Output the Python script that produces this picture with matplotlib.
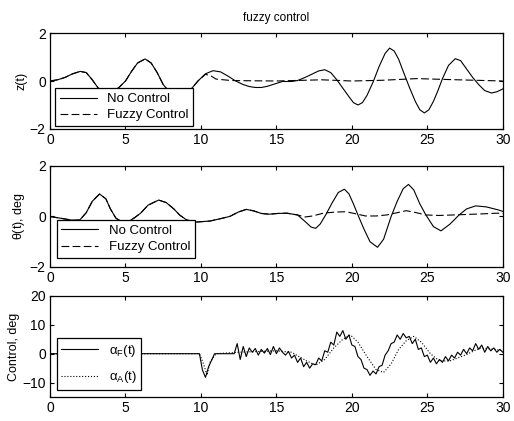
import matplotlib
matplotlib.use('Agg')
import numpy as np
import matplotlib.pyplot as plt

plt.rcParams['font.family'] = ['Liberation Sans', 'DejaVu Sans']
plt.rcParams['mathtext.fontset'] = 'custom'
plt.rcParams['mathtext.rm'] = 'Liberation Sans'
plt.rcParams['mathtext.it'] = 'Liberation Sans'

# ---- z(t) ----
t_z = [0.0, 0.5, 1.0, 1.5, 2.0, 2.4, 2.8, 3.2, 3.7, 4.2, 4.6, 5.0, 5.4, 5.8,
       6.3, 6.7, 7.1, 7.5, 7.9, 8.4, 8.9, 9.4, 9.8, 10.3, 10.8, 11.3, 11.8,
       12.3, 12.8, 13.2, 13.6, 14.0, 14.4, 14.9, 15.4, 16.0, 16.4, 16.9, 17.4,
       17.8, 18.2, 18.6, 19.0, 19.4, 19.8, 20.1, 20.4, 20.7, 21.0, 21.4, 21.8,
       22.2, 22.5, 22.8, 23.1, 23.4, 23.8, 24.2, 24.5, 24.8, 25.1, 25.4, 25.7,
       26.0, 26.4, 26.85, 27.2, 27.6, 28.0, 28.4, 28.8, 29.25, 29.6, 30.0]
z_none = [0.00, 0.05, 0.15, 0.30, 0.40, 0.35, 0.05, -0.30, -0.45, -0.45, -0.25,
          0.00, 0.40, 0.75, 0.92, 0.75, 0.35, -0.15, -0.45, -0.55, -0.45, -0.30,
          0.00, 0.30, 0.43, 0.38, 0.20, 0.00, -0.15, -0.23, -0.27, -0.27, -0.22,
          -0.12, -0.02, -0.02, 0.02, 0.15, 0.30, 0.42, 0.47, 0.35, 0.05, -0.30,
          -0.65, -0.90, -1.00, -0.90, -0.60, -0.05, 0.60, 1.15, 1.37, 1.25, 0.90,
          0.40, -0.25, -0.85, -1.20, -1.33, -1.20, -0.85, -0.40, 0.10, 0.65,
          0.93, 0.85, 0.50, 0.15, -0.15, -0.40, -0.50, -0.45, -0.33]
t_zf_tail = [10.3, 10.7, 11.0, 11.5, 12.0, 13.2, 15.0, 18.0, 20.0, 22.0, 24.3,
             27.0, 30.0]
z_fuzzy_tail = [0.28, 0.2, 0.08, 0.05, 0.02, 0.01, 0.0, 0.05, 0.0, 0.03, 0.1,
                0.05, 0.0]

# ---- theta(t) ----
t_th = [0.0, 0.5, 1.0, 1.5, 1.97, 2.4, 2.8, 3.28, 3.7, 4.0, 4.37, 4.8, 5.2,
        5.6, 6.0, 6.5, 7.2, 7.7, 8.2, 8.6, 9.06, 9.7, 10.6, 11.2, 11.9, 12.5,
        13.0, 13.5, 14.0, 14.5, 15.1, 15.7, 16.4, 16.9, 17.3, 17.6, 17.9, 18.3,
        18.7, 19.1, 19.5, 19.8, 20.1, 20.4, 20.8, 21.2, 21.7, 22.1, 22.6, 23.0,
        23.4, 23.75, 24.1, 24.5, 24.9, 25.4, 25.9, 26.5, 27.1, 27.6, 28.2,
        28.9, 29.7, 30.0]
th_none = [0.00, -0.05, -0.10, -0.15, -0.14, 0.15, 0.60, 0.89, 0.70, 0.30,
           -0.07, -0.22, -0.20, -0.05, 0.13, 0.45, 0.65, 0.55, 0.30, 0.05,
           -0.14, -0.22, -0.18, -0.10, 0.00, 0.18, 0.28, 0.22, 0.12, 0.09,
           0.12, 0.13, 0.06, -0.20, -0.42, -0.47, -0.30, 0.10, 0.55, 0.95,
           1.08, 0.90, 0.50, 0.06, -0.50, -1.00, -1.22, -0.90, 0.00, 0.60,
           1.10, 1.27, 1.05, 0.50, 0.06, -0.40, -0.57, -0.30, 0.06, 0.30,
           0.42, 0.38, 0.26, 0.20]
t_thf_tail = [16.9, 17.4, 18.1, 18.8, 19.6, 20.3, 20.9, 21.6, 22.3, 23.0, 23.6,
              24.2, 24.9, 25.8, 26.7, 27.6, 28.5, 29.6, 30.0]
th_fuzzy_tail = [-0.02, 0.02, 0.13, 0.17, 0.19, 0.1, 0.02, 0.02, 0.06, 0.15,
                 0.23, 0.16, 0.06, 0.04, 0.06, 0.08, 0.1, 0.13, 0.12]

# ---- control ----
t_af = [0, 9.9, 10.1, 10.3, 10.5, 10.9, 12.0,
        12.2, 12.4, 12.6, 12.8, 13.0, 13.2, 13.4, 13.6, 13.8, 14.0,
        14.2, 14.4, 14.6, 14.8, 15.0, 15.2, 15.4, 15.6, 15.8, 16.0,
        16.2, 16.4, 16.6, 16.8, 17.0, 17.2, 17.4, 17.6, 17.8, 18.0,
        18.2, 18.4, 18.6, 18.8, 19.0, 19.2, 19.4, 19.6, 19.8, 20.0,
        20.2, 20.4, 20.6, 20.8, 21.0, 21.2, 21.4, 21.6, 21.8, 22.0,
        22.2, 22.4, 22.6, 22.8, 23.0, 23.2, 23.4, 23.6, 23.8, 24.0,
        24.2, 24.4, 24.6, 24.8, 25.0, 25.2, 25.4, 25.6, 25.8, 26.0,
        26.2, 26.4, 26.6, 26.8, 27.0, 27.2, 27.4, 27.6, 27.8, 28.0,
        28.2, 28.4, 28.6, 28.8, 29.0, 29.2, 29.4, 29.6, 29.8, 30.0]
alpha_f = [0, 0, -5.7, -8.2, -4.6, 0, 0,
           0.0, 3.5, -2.0, 2.5, -1.0, 2.0, 0.5, 1.8, -0.5, 1.5,
           0.2, 1.8, -0.3, 2.5, 0.0, 2.0, 0.5, -0.5, 0.8, -1.5,
           -0.5, -3.0, -1.5, -4.5, -3.0, -5.0, -3.5, -3.8, -1.5, -2.5,
           1.0, 0.5, 4.0, 3.0, 7.5, 6.0, 8.0, 5.0, 6.5, 3.0,
           2.5, -1.0, -2.0, -5.0, -5.5, -7.5, -6.0, -7.0, -4.5, -4.0,
           -0.5, 1.0, 3.5, 4.0, 6.5, 5.0, 7.0, 5.5, 6.0, 3.5,
           5.0, 1.5, 2.0, -1.0, -0.5, -3.0, -1.5, -3.5, -2.0, -3.0,
           -1.0, -2.5, -0.5, -1.5, 0.5, -0.5, 1.5, 0.0, 2.0, 1.0,
           3.5, 1.5, 3.0, 0.5, 2.5, 1.0, 2.0, 0.5, 1.5, 0.5]
t_aa = [0, 9.9, 10.2, 10.4, 10.6, 11.0, 12.5, 15.0, 16.0, 17.0, 17.6, 18.2,
        18.8, 19.4, 19.9, 20.4, 21.0, 21.6, 22.1, 22.6, 23.1, 23.6, 24.1, 24.6,
        25.2, 25.8, 26.5, 27.5, 28.5, 29.5, 30]
alpha_a = [0, 0, -4, -7.5, -3, 0, 0.5, 1, 0.5, -2.5, -4, -2, 2, 5, 6.5, 4, -1,
           -5.5, -6.5, -3.5, 1.5, 4.5, 6, 4, 0, -2.5, -2.5, -0.5, 2, 1.5, 1]

# fuzzy curves coincide with the uncontrolled ones before control starts
t_zf = [t for t in t_z if t < 10.3] + t_zf_tail
z_fuzzy = [z for t, z in zip(t_z, z_none) if t < 10.3] + z_fuzzy_tail
t_thf = [t for t in t_th if t <= 16.4] + t_thf_tail
th_fuzzy = [v for t, v in zip(t_th, th_none) if t <= 16.4] + th_fuzzy_tail

fig = plt.figure(figsize=(5.14, 4.21), dpi=100)
ax1 = fig.add_axes([0.0973, 0.6936, 0.881, 0.228])
ax2 = fig.add_axes([0.0973, 0.3658, 0.881, 0.240])
ax3 = fig.add_axes([0.0973, 0.057, 0.881, 0.240])

lw = 0.8
dash = (0, (7, 3))
ax1.plot(t_z, z_none, color='black', lw=lw, label='No Control')
ax1.plot(t_zf, z_fuzzy, color='black', lw=lw, ls=dash, label='Fuzzy Control')
ax1.set_ylim(-2, 2)
ax1.set_yticks([-2, 0, 2])
ax1.set_ylabel('z(t)')
ax1.set_title('fuzzy control', fontsize=8.5, pad=9)

ax2.plot(t_th, th_none, color='black', lw=lw, label='No Control')
ax2.plot(t_thf, th_fuzzy, color='black', lw=lw, ls=dash, label='Fuzzy Control')
ax2.set_ylim(-2, 2)
ax2.set_yticks([-2, 0, 2])
ax2.set_ylabel(r'$\theta$(t), deg')

ax3.plot(t_af, alpha_f, color='black', lw=lw, label=r'$\alpha_F$(t)')
ax3.plot(t_aa, alpha_a, color='black', lw=lw, ls=':', label=r'$\alpha_A$(t)')
ax3.set_ylim(-15, 20)
ax3.set_yticks([-10, 0, 10, 20])
ax3.set_ylabel('Control, deg')

legend_pos = [(ax1, (0.011, 0.03), 0.3), (ax2, (0.015, 0.09), 0.3),
              (ax3, (0.015, 0.07), 0.8)]
for ax, anchor, spacing in legend_pos:
    ax.set_xlim(0, 30)
    ax.set_xticks([0, 5, 10, 15, 20, 25, 30])
    ax.tick_params(direction='in', top=True, right=True, labelsize=10,
                   length=3, width=0.8, colors='black', pad=3)
    ax.yaxis.label.set_size(9)
    ax.yaxis.labelpad = 2
    for spine in ax.spines.values():
        spine.set_color('black')
        spine.set_linewidth(0.9)
    leg = ax.legend(loc='lower left', bbox_to_anchor=anchor, fontsize=9.5,
                    fancybox=False, framealpha=1, edgecolor='black',
                    handlelength=2.8, borderpad=0.35, labelspacing=spacing,
                    borderaxespad=0)
    leg.get_frame().set_linewidth(0.9)

plt.savefig('out.png', dpi=100)
plt.close()
